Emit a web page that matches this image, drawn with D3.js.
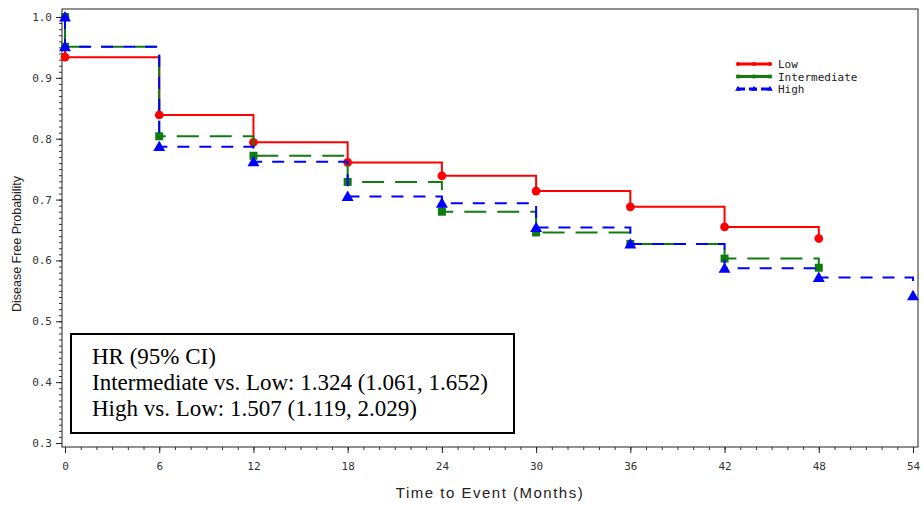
<!DOCTYPE html>
<html>
<head>
<meta charset="utf-8">
<script src="https://cdn.jsdelivr.net/npm/d3@7"></script>
<style>
  html, body { margin: 0; padding: 0; background: #fff; }
  svg { display: block; }
</style>
</head>
<body>
<svg id="chart" width="922" height="506"></svg>
<script>
// Kaplan-Meier disease free probability by risk group
const lowTimes  = [0, 0, 6, 12, 18, 24, 30, 36, 42, 48];
const lowSurv   = [1.0, 0.934, 0.839, 0.794, 0.761, 0.739, 0.714, 0.688, 0.655, 0.636];
const intTimes  = [0, 0, 6, 12, 18, 24, 30, 36, 42, 48];
const intSurv   = [1.0, 0.951, 0.804, 0.772, 0.729, 0.680, 0.646, 0.627, 0.603, 0.588];
const highTimes = [0, 0, 6, 12, 18, 24, 30, 36, 42, 48, 54];
const highSurv  = [1.0, 0.951, 0.787, 0.762, 0.705, 0.694, 0.654, 0.627, 0.587, 0.572, 0.542];

const groupNames = ["Low", "Intermediate", "High"];
const xTicks = [0, 6, 12, 18, 24, 30, 36, 42, 48, 54];
const yTicks = [0.3, 0.4, 0.5, 0.6, 0.7, 0.8, 0.9, 1.0];
const hrLines = [
  "HR (95% CI)",
  "Intermediate vs. Low: 1.324 (1.061, 1.652)",
  "High vs. Low: 1.507 (1.119, 2.029)"
];

const styles = [
  { color: "#ff0000", dash: null,    marker: "circle" },
  { color: "#107c10", dash: "22,11", marker: "square" },
  { color: "#0000ff", dash: "12,10", marker: "triangle" }
];
const series = [
  { name: groupNames[0], t: lowTimes,  s: lowSurv },
  { name: groupNames[1], t: intTimes,  s: intSurv },
  { name: groupNames[2], t: highTimes, s: highSurv }
];

const svg = d3.select("#chart");
const frame = { left: 62, top: 9, right: 918, bottom: 447 };
const x = d3.scaleLinear().domain([0, 54]).range([65, 913]);
const y = d3.scaleLinear().domain([0.3, 1.0]).range([443, 17]);

const monoFont = "'DejaVu Sans Mono', monospace";

// plot frame
svg.append("rect")
  .attr("x", frame.left).attr("y", frame.top)
  .attr("width", frame.right - frame.left).attr("height", frame.bottom - frame.top)
  .attr("fill", "none").attr("stroke", "#222").attr("stroke-width", 1);

// y axis: major ticks every 0.1, minor every 0.01
const yAxisG = svg.append("g").attr("transform", `translate(${frame.left},0)`);
yAxisG.call(d3.axisLeft(y).tickValues(d3.range(30, 101).map(v => v / 100))
    .tickSize(3).tickFormat(""))
  .call(g => g.select(".domain").remove())
  .call(g => g.selectAll("line").attr("stroke", "#333"));
yAxisG.append("g").call(d3.axisLeft(y).tickValues(yTicks).tickSize(6).tickPadding(4)
    .tickFormat(d3.format(".1f")))
  .call(g => g.select(".domain").remove())
  .call(g => g.selectAll("line").attr("stroke", "#222"))
  .call(g => g.selectAll("text").attr("font-family", monoFont).attr("font-size", 11)
    .attr("fill", "#333"));

// x axis: major ticks every 6 months, minor every month
const xAxisG = svg.append("g").attr("transform", `translate(0,${frame.bottom})`);
xAxisG.call(d3.axisBottom(x).tickValues(d3.range(0, 55)).tickSize(3).tickFormat(""))
  .call(g => g.select(".domain").remove())
  .call(g => g.selectAll("line").attr("stroke", "#333"));
xAxisG.append("g").call(d3.axisBottom(x).tickValues(xTicks).tickSize(6).tickPadding(9)
    .tickFormat(d3.format("d")))
  .call(g => g.select(".domain").remove())
  .call(g => g.selectAll("line").attr("stroke", "#222"))
  .call(g => g.selectAll("text").attr("font-family", monoFont).attr("font-size", 11)
    .attr("fill", "#333"));

// axis titles
svg.append("text")
  .attr("x", 490).attr("y", 498)
  .attr("text-anchor", "middle")
  .attr("font-family", "'Liberation Sans', Arial, sans-serif")
  .attr("font-size", 15).attr("letter-spacing", 1.5)
  .attr("fill", "#222")
  .text("Time to Event (Months)");
svg.append("text")
  .attr("transform", "translate(21,244) rotate(-90)")
  .attr("text-anchor", "middle")
  .attr("font-family", "'Liberation Sans', Arial, sans-serif")
  .attr("font-size", 12.5)
  .attr("fill", "#222")
  .text("Disease Free Probability");

// marker symbols
function marker(sel, kind, color, size) {
  const sym = kind === "circle" ? d3.symbolCircle : kind === "square" ? d3.symbolSquare : d3.symbolTriangle;
  sel.attr("d", d3.symbol().type(sym).size(size)).attr("fill", color).attr("stroke", "none");
}
const markerSize = { circle: 60, square: 64, triangle: 62 };

const line = d3.line().x(d => x(d[0])).y(d => y(d[1])).curve(d3.curveStepAfter);

series.forEach((sr, i) => {
  const st = styles[i];
  const pts = sr.t.map((t, k) => [t, sr.s[k]]);
  const g = svg.append("g");
  g.append("path")
    .datum(pts)
    .attr("d", line)
    .attr("fill", "none")
    .attr("stroke", st.color)
    .attr("stroke-width", 2)
    .attr("stroke-dasharray", st.dash);
  g.selectAll("path.mk")
    .data(pts)
    .join("path")
    .attr("class", "mk")
    .attr("transform", d => `translate(${x(d[0])},${y(d[1]) + (st.marker === "triangle" ? 1 : 0)})`)
    .call(marker, st.marker, st.color, markerSize[st.marker]);
});

// legend
const legend = svg.append("g").attr("transform", "translate(737,64)");
series.forEach((sr, i) => {
  const st = styles[i];
  const row = legend.append("g").attr("transform", `translate(0,${i * 12.5})`);
  row.append("line")
    .attr("x1", 0).attr("x2", 34).attr("y1", 0).attr("y2", 0)
    .attr("stroke", st.color).attr("stroke-width", 3)
    .attr("stroke-dasharray", i === 2 ? "8,4" : null);
  [1, 17, 33].forEach(px => {
    row.append("path")
      .attr("transform", `translate(${px},0)`)
      .call(marker, st.marker, st.color, 14);
  });
  row.append("text")
    .attr("x", 41).attr("y", 4)
    .attr("font-family", monoFont).attr("font-size", 11)
    .attr("fill", "#222")
    .text(sr.name);
});

// hazard ratio box
const box = svg.append("g");
box.append("rect")
  .attr("x", 71).attr("y", 334).attr("width", 443).attr("height", 99)
  .attr("fill", "#fff").attr("stroke", "#000").attr("stroke-width", 2);
box.selectAll("text")
  .data(hrLines)
  .join("text")
  .attr("x", 92)
  .attr("y", (d, i) => 364 + i * 26)
  .attr("font-family", "'Liberation Serif', 'Times New Roman', serif")
  .attr("font-size", 23)
  .attr("fill", "#000")
  .text(d => d);
</script>
</body>
</html>
